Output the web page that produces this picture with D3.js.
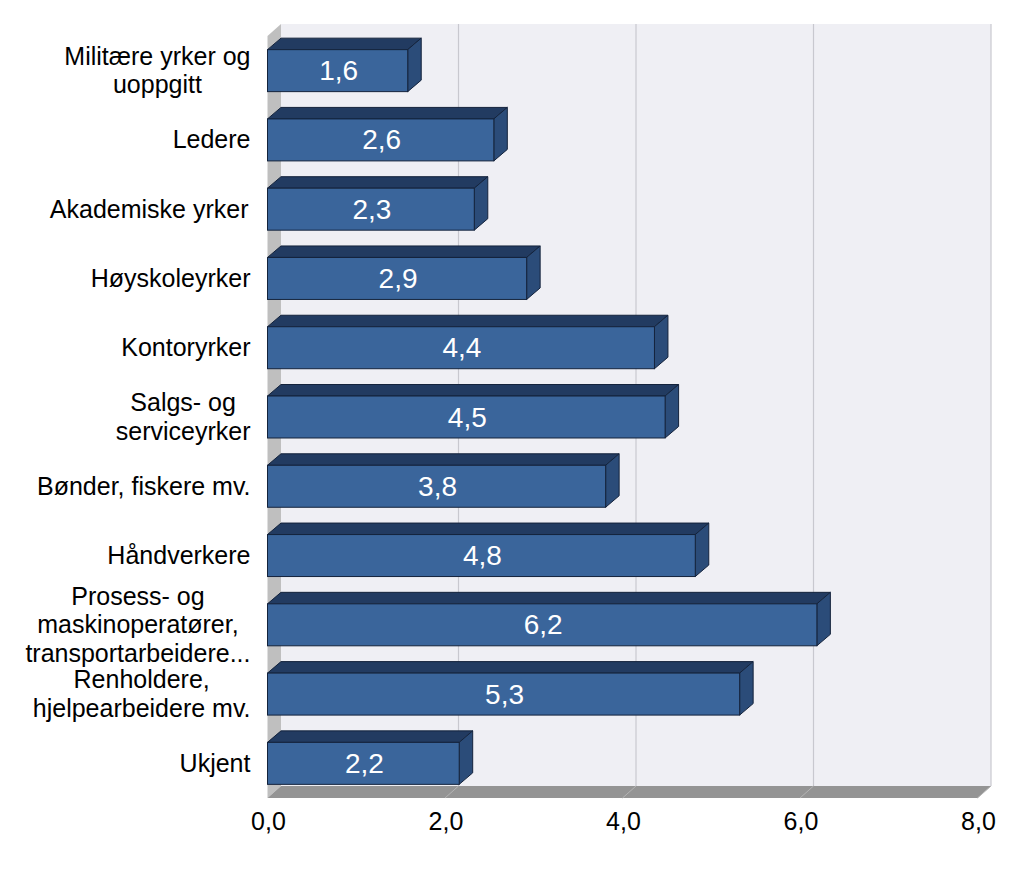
<!DOCTYPE html>
<html><head><meta charset="utf-8">
<style>html,body{margin:0;background:#fff}svg{display:block}text{font-family:"Liberation Sans",Arial,sans-serif}</style>
<script src="https://cdn.jsdelivr.net/npm/d3@7"></script></head><body>
<svg id="c" width="1023" height="877"></svg>
<script>
const categories = [
  ["Militære yrker og","uoppgitt"],["Ledere"],["Akademiske yrker"],["Høyskoleyrker"],["Kontoryrker"],
  ["Salgs- og","serviceyrker"],["Bønder, fiskere mv."],["Håndverkere"],
  ["Prosess- og","maskinoperatører,","transportarbeidere..."],["Renholdere,","hjelpearbeidere mv."],["Ukjent"]];
const values = [1.58,2.55,2.33,2.92,4.36,4.48,3.81,4.82,6.19,5.32,2.16];
const valueLabels = ["1,6","2,6","2,3","2,9","4,4","4,5","3,8","4,8","6,2","5,3","2,2"];
const ticks = [0,2,4,6,8];
const tickLabels = ["0,0","2,0","4,0","6,0","8,0"];

const svg = d3.select("#c");
const depthX = 13.5, depthY = 12, barDX = 13.5, barDY = 11.5;
const x = d3.scaleLinear().domain([0,8]).range([267.5,977.5]);
const y = d3.scaleBand().domain(d3.range(categories.length)).range([36,798]).paddingInner(0.394).paddingOuter(0.197);
const yTop = y.range()[0], yBot = y.range()[1];
const poly = pts => pts.map(p=>p.join(",")).join(" ");

// back wall
svg.append("polygon").attr("points",poly([[x(0)+depthX,yTop-depthY],[x(8)+depthX,yTop-depthY],[x(8)+depthX,yBot-depthY],[x(0)+depthX,yBot-depthY]])).attr("fill","#efeff4");
// side wall
svg.append("polygon").attr("points",poly([[x(0),yTop],[x(0)+depthX,yTop-depthY],[x(0)+depthX,yBot-depthY],[x(0),yBot]])).attr("fill","#bfbfbf");
// floor
svg.append("polygon").attr("points",poly([[x(0),yBot],[x(0)+depthX,yBot-depthY],[x(8)+depthX,yBot-depthY],[x(8),yBot]])).attr("fill","#949494");
// gridlines
ticks.forEach(t=>{
  if(t===0) return;
  svg.append("line").attr("x1",x(t)+depthX).attr("x2",x(t)+depthX).attr("y1",yTop-depthY).attr("y2",yBot-depthY).attr("stroke","#c8c8cf").attr("stroke-width",1.2);
  svg.append("line").attr("x1",x(t)+depthX).attr("x2",x(t)).attr("y1",yBot-depthY).attr("y2",yBot).attr("stroke","#b4b4b4").attr("stroke-width",1);
});
// bars
const g = svg.selectAll("g.bar").data(values).join("g").attr("class","bar");
const edge = "#14233c";
g.append("polygon").attr("fill","#223b61").attr("stroke",edge).attr("stroke-width",1)
 .attr("points",(d,i)=>poly([[x(0),y(i)],[x(0)+barDX,y(i)-barDY],[x(d)+barDX,y(i)-barDY],[x(d),y(i)]]));
g.append("polygon").attr("fill","#2b4c79").attr("stroke",edge).attr("stroke-width",1)
 .attr("points",(d,i)=>poly([[x(d),y(i)],[x(d)+barDX,y(i)-barDY],[x(d)+barDX,y(i)-barDY+y.bandwidth()],[x(d),y(i)+y.bandwidth()]]));
g.append("rect").attr("x",x(0)).attr("y",(d,i)=>y(i)).attr("width",d=>x(d)-x(0)).attr("height",y.bandwidth())
 .attr("fill","#3a659b").attr("stroke",edge).attr("stroke-width",1);
g.append("text").attr("x",d=>(x(0)+x(d))/2+1).attr("y",(d,i)=>y(i)+y.bandwidth()/2+9.5)
 .attr("text-anchor","middle").attr("fill","#fff").attr("font-size",28).text((d,i)=>valueLabels[i]);
// x tick labels
svg.selectAll("text.tick").data(ticks).join("text").attr("class","tick")
 .attr("x",d=>x(d)+1).attr("y",830).attr("text-anchor","middle").attr("font-size",25).attr("fill","#000")
 .text((d,i)=>tickLabels[i]);
// category labels
const lh = 28.5;
categories.forEach((lines,i)=>{
  const cy = y(i)+y.bandwidth()/2;
  const t = svg.append("text").attr("font-size",25).attr("fill","#000").attr("text-anchor","middle");
  lines.forEach((s,j)=>{
    t.append("tspan").attr("x",0).attr("y",cy+8.5+(j-(lines.length-1)/2)*lh).text(s);
  });
  const w = t.node().getBBox().width;
  const right = lines[0].startsWith("Akademiske") ? 248.5 : 250.5;
  t.attr("transform",`translate(${right-w/2},0)`);
});
</script></body></html>
